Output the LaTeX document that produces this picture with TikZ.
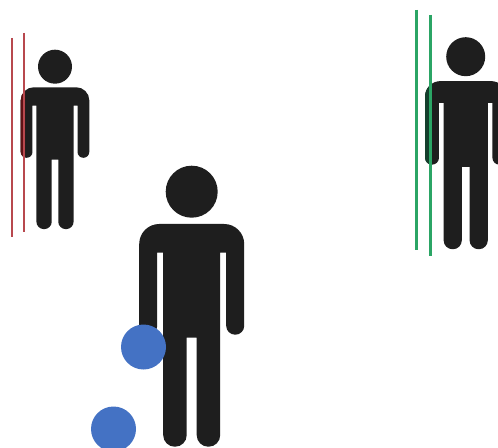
\documentclass[tikz,border=0pt]{standalone}
\definecolor{fig}{HTML}{1E1E1E}
\definecolor{lred}{HTML}{B8484E}
\definecolor{dred}{HTML}{5E1215}
\definecolor{lgreen}{HTML}{2BA565}
\definecolor{dgreen}{HTML}{143F2C}
\definecolor{ball}{HTML}{4472C4}
% #1 head x, #2 head y, #3 x-scale, #4 y-scale
\newcommand{\personpath}[4]{%
  ({#1-52.5*#3},{#2+143*#4})
  [rounded corners={20*#3*0.75pt}] -- ({#1-52.5*#3},{#2+32.3*#4})
  -- ({#1+52.5*#3},{#2+32.3*#4})
  [rounded corners={8.9*#3*0.75pt}] -- ({#1+52.5*#3},{#2+143*#4})
  -- ({#1+34.5*#3},{#2+143*#4})
  [sharp corners] -- ({#1+34.5*#3},{#2+61*#4}) -- ({#1+28.5*#3},{#2+61*#4})
  [rounded corners={11.5*#3*0.75pt}] -- ({#1+28.5*#3},{#2+255*#4}) -- ({#1+5*#3},{#2+255*#4})
  [sharp corners] -- ({#1+5*#3},{#2+146*#4}) -- ({#1-5*#3},{#2+146*#4})
  [rounded corners={11.5*#3*0.75pt}] -- ({#1-5*#3},{#2+255*#4}) -- ({#1-28.5*#3},{#2+255*#4})
  [sharp corners] -- ({#1-28.5*#3},{#2+61*#4}) -- ({#1-34.5*#3},{#2+61*#4})
  [rounded corners={8.9*#3*0.75pt}] -- ({#1-34.5*#3},{#2+143*#4})
  -- cycle
}
\newcommand{\drawperson}[5]{%
  \fill[fig] (#1,#2) circle[radius=#5];
  \fill[fig] \personpath{#1}{#2}{#3}{#4};
}
\begin{document}
\begin{tikzpicture}[x=0.75pt,y=-0.75pt,
  redline/.style={lred,line width=1.7pt},
  greenline/.style={lgreen,line width=2.6pt},
  ballfill/.style={fill=ball}]
\useasboundingbox (0,0) rectangle (498,448);
\clip (0,0) rectangle (498,448);
\fill[white] (0,0) rectangle (498,448);
% left figure
\drawperson{55}{66.7}{0.653}{0.637}{17}
\begin{scope}
  \clip (0,0) rectangle (25,448);
  \fill[dred] \personpath{55}{66.7}{0.653}{0.637};
\end{scope}
\draw[redline] (12,38) -- (12,237);
\draw[redline] (24,33) -- (24,232);
% right figure
\drawperson{465.7}{56.7}{0.775}{0.755}{19.5}
\begin{scope}
  \clip (0,0) rectangle (430,448);
  \fill[dgreen] \personpath{465.7}{56.7}{0.775}{0.755};
\end{scope}
\draw[greenline] (416.5,10) -- (416.5,250);
\draw[greenline] (430.5,15) -- (430.5,256);
% centre figure
\drawperson{191.7}{191.7}{1}{1}{26}
\fill[ballfill] (143.5,347) circle[radius=22.5];
\fill[ballfill] (113.5,429) circle[radius=22.5];
\end{tikzpicture}
\end{document}
